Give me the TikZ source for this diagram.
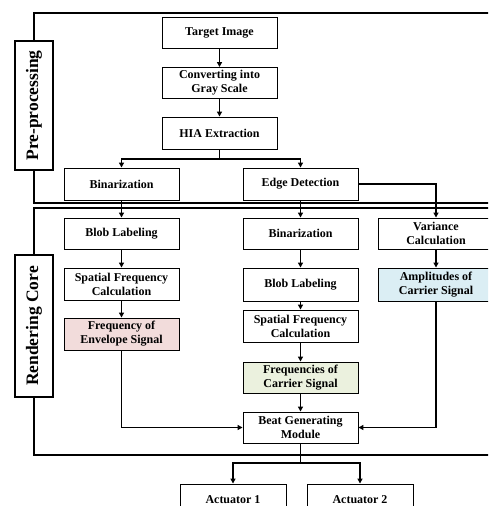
\documentclass[tikz,border=0pt]{standalone}
\usepackage{fontspec}
\setmainfont{Liberation Serif}
\usetikzlibrary{arrows.meta}
\definecolor{pinkfill}{RGB}{242,220,219}
\definecolor{greenfill}{RGB}{235,241,222}
\definecolor{bluefill}{RGB}{219,238,244}
\tikzset{
  box/.style={draw, line width=0.9pt, minimum width=115pt, minimum height=31pt, align=center,
    inner sep=1pt, font=\fontsize{12}{14}\selectfont\bfseries},
  frame/.style={draw, line width=1.6pt},
  sidelabel/.style={draw, fill=white, line width=1.6pt, rotate=90, inner sep=0pt,
    font=\fontsize{17.5}{19}\selectfont\bfseries},
  conn/.style={line width=1.4pt, -{Triangle[length=5pt,width=5pt]}},
  line/.style={line width=1.4pt},
}
\begin{document}
\begin{tikzpicture}[x=1pt,y=-1pt]
\useasboundingbox (0,0) rectangle (488,506);
\clip (0,0) rectangle (488,506);
% frames
\draw[frame] (34,13) rectangle (520,203);
\draw[frame] (34,208) rectangle (520,455);
\node[sidelabel, minimum width=129pt, minimum height=38pt] (prelab) at (34,105.5) {Pre-processing};
\node[sidelabel, minimum width=142pt, minimum height=38pt] (corelab) at (34,326) {Rendering Core};
% nodes
\node[box] (target) at (219.5,32.5) {Target Image};
\node[box] (conv) at (219.5,83) {Converting into\\Gray Scale};
\node[box, minimum height=32pt] (hia) at (219.5,133) {HIA Extraction};
\node[box, minimum height=32pt] (bin1) at (121.5,184) {Binarization};
\node[box, minimum height=32pt] (edge) at (300.5,184) {Edge Detection};
\node[box] (blob1) at (121.5,233.5) {Blob Labeling};
\node[box, minimum height=32pt] (spat1) at (121.5,284) {Spatial Frequency\\Calculation};
\node[box, minimum height=32pt, fill=pinkfill] (env) at (121.5,334) {Frequency of\\Envelope Signal};
\node[box] (bin2) at (300.5,233.5) {Binarization};
\node[box, minimum height=33pt] (blob2) at (300.5,284.5) {Blob Labeling};
\node[box, minimum height=32pt] (spat2) at (300.5,326) {Spatial Frequency\\Calculation};
\node[box, fill=greenfill] (carr) at (300.5,377.5) {Frequencies of\\Carrier Signal};
\node[box] (beat) at (300.5,427.5) {Beat Generating\\Module};
\node[box, minimum width=116pt] (var) at (436,233.5) {Variance\\Calculation};
\node[box, minimum width=116pt, minimum height=33pt, fill=bluefill] (amp) at (436,284.5) {Amplitudes of\\Carrier Signal};
\node[box, minimum width=106pt, minimum height=32pt] (act1) at (233,500) {Actuator 1};
\node[box, minimum width=106pt, minimum height=32pt] (act2) at (360,500) {Actuator 2};
% connectors
\draw[conn] (target) -- (conv);
\draw[conn] (conv) -- (hia);
\coordinate (j1) at (219.5,159);
\draw[line] (hia.south) -- (j1);
\draw[conn] (j1) -| (bin1.north);
\draw[conn] (j1) -| (edge.north);
\draw[conn] (bin1) -- (blob1);
\draw[conn] (edge) -- (bin2);
\draw[conn] (edge.east) -| (var.north);
\draw[conn] (blob1) -- (spat1);
\draw[conn] (spat1) -- (env);
\draw[conn] (bin2) -- (blob2);
\draw[conn] (blob2) -- (spat2);
\draw[conn] (spat2) -- (carr);
\draw[conn] (carr) -- (beat);
\draw[conn] (var) -- (amp);
\draw[conn] (env.south) |- (beat.west);
\draw[conn] (amp.south) |- (beat.east);
\coordinate (j2) at (300.5,463);
\draw[line] (beat.south) -- (j2);
\draw[conn] (j2) -| (act1.north);
\draw[conn] (j2) -| (act2.north);
\end{tikzpicture}
\end{document}
